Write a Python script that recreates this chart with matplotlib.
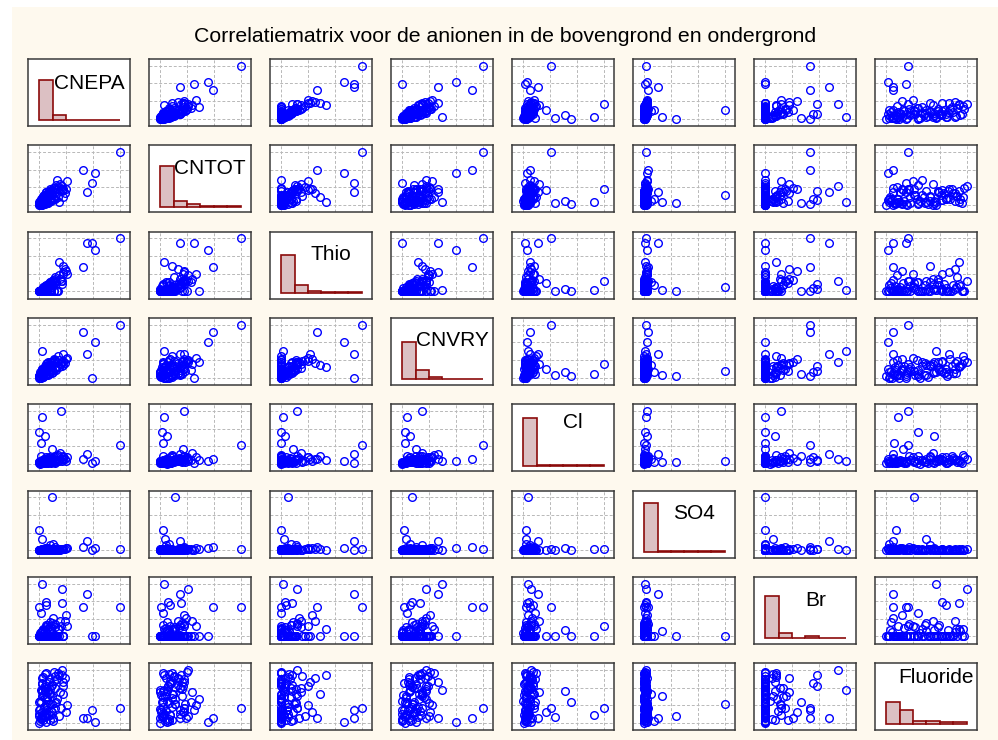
import matplotlib

matplotlib.use("Agg")
import matplotlib.pyplot as plt  # noqa: E402
import numpy as np  # noqa: E402
from matplotlib.patches import Rectangle  # noqa: E402

plt.rcParams["font.family"] = ["Liberation Sans", "DejaVu Sans"]

TITLE = "Correlatiematrix voor de anionen in de bovengrond en ondergrond"
NAMES = ["CNEPA", "CNTOT", "Thio", "CNVRY", "Cl", "SO4", "Br", "Fluoride"]

# values (relative units, 0 = min, 100 = max)
# first 26 entries: the outlying samples, then the bulk of the samples
CNEPA = [100, 55, 70, 66, 59, 22, 27, 4, 0, 7, 2, 16, 0, 4, 4, 28, 30, 32, 29, 25, 33, 9,
         9, 28, 0, 2,
         1, 2, 3, 4, 5, 6, 7, 8, 9, 10, 11, 12, 13, 14, 15, 16, 17, 18, 19, 20, 21, 23, 24, 26, 30, 35,
         0, 1, 2, 3, 4, 5, 6, 7, 8, 9, 10, 11, 12, 13, 14, 15, 16, 17, 18, 19, 20, 22,
         0, 1, 2, 3, 4, 5, 6, 7, 8, 9, 10, 12, 14, 16]
CNTOT = [100, 66, 60, 42, 25, 48, 30, 5, 2, 8, 3, 18, 3, 6, 5, 35, 28, 22, 15, 5, 30, 10,
         12, 26, 1, 4,
         6, 0, 12, 1, 15, 3, 2, 18, 9, 4, 24, 16, 8, 27, 7, 22, 32, 12, 30, 17, 38, 15, 34, 40, 30, 45,
         0, 8, 0, 13, 7, 1, 18, 11, 3, 24, 18, 4, 23, 12, 31, 10, 27, 11, 33, 25, 11, 30,
         5, 0, 11, 0, 12, 17, 3, 15, 24, 4, 15, 27, 7, 28]
THIO = [100, 45, 78, 91, 91, 0, 20, 2, 0, 5, 0, 8, 0, 3, 2, 20, 33, 42, 48, 56, 38, 5,
        6, 14, 0, 0,
        0, 0, 4, 0, 6, 0, 9, 5, 0, 12, 8, 0, 15, 18, 0, 14, 22, 0, 20, 26, 17, 0, 30, 24, 36, 33,
        0, 0, 2, 0, 5, 0, 3, 10, 0, 7, 0, 14, 11, 0, 16, 0, 20, 12, 0, 24, 18, 0,
        0, 1, 0, 4, 0, 8, 2, 0, 12, 0, 9, 0, 18, 15]
CNVRY = [100, 87, 67, 0, 44, 30, 25, 6, 3, 10, 4, 12, 2, 5, 50, 30, 32, 28, 24, 20, 35, 12,
         10, 22, 2, 6,
         0, 9, 5, 15, 1, 12, 20, 5, 17, 27, 5, 21, 12, 29, 22, 8, 30, 36, 17, 32, 15, 40, 33, 25, 44, 37,
         3, 0, 10, 2, 16, 1, 12, 22, 14, 7, 21, 30, 8, 23, 13, 29, 24, 10, 34, 18, 33, 22,
         0, 10, 0, 8, 17, 9, 14, 5, 15, 25, 20, 7, 24, 17]
CL = [35, 9, 5, 2, 18, 8, 100, 88, 60, 52, 40, 6, 3, 4, 6, 10, 12, 10, 14, 8, 6, 7,
      12, 5, 3, 15,
      2, 4, 1, 6, 3, 8, 2, 5, 10, 3, 7, 12, 4, 9, 2, 6, 11, 5, 14, 3, 8, 16, 6, 20, 9, 13,
      1, 0, 5, 2, 7, 1, 9, 4, 3, 6, 8, 2, 11, 5, 3, 7, 10, 4, 12, 6, 2, 15,
      3, 6, 2, 4, 1, 8, 5, 3, 10, 2, 7, 4, 9, 28]
SO4 = [2, 5, 4, 1, 17, 3, 3, 2, 1, 4, 0, 100, 39, 22, 1, 2, 2, 3, 2, 1, 4, 2,
       1, 2, 0, 1,
       0, 1, 0, 2, 1, 0, 3, 1, 2, 0, 4, 1, 2, 0, 3, 1, 2, 0, 5, 1, 2, 0, 3, 1, 2, 4,
       0, 0, 1, 0, 0, 2, 1, 0, 2, 1, 0, 3, 1, 0, 2, 1, 0, 12, 1, 0, 3, 1,
       1, 0, 0, 2, 0, 1, 0, 1, 0, 2, 1, 0, 9, 1]
BR = [56, 56, 0, 0, 80, 0, 20, 0, 0, 12, 0, 0, 0, 10, 100, 90, 0, 30, 0, 14, 40, 65,
      60, 64, 56, 44,
      0, 0, 0, 0, 12, 0, 0, 18, 0, 22, 0, 0, 28, 0, 16, 0, 34, 0, 24, 0, 0, 14, 0, 30, 0, 20,
      0, 6, 0, 0, 8, 0, 0, 10, 0, 0, 15, 0, 0, 20, 0, 0, 26, 0, 0, 18, 0, 0,
      0, 0, 9, 0, 0, 14, 0, 0, 22, 0, 0, 12, 0, 0]
FLUOR = [27, 8, 2, 25, 9, 45, 27, 15, 40, 60, 10, 35, 12, 50, 62, 100, 70, 85, 55, 90, 20, 70,
         75, 90, 25, 40,
         3, 8, 14, 20, 5, 30, 11, 36, 2, 48, 17, 55, 6, 64, 22, 72, 9, 80, 28, 88, 40, 95, 13, 58, 78, 33,
         0, 42, 62, 76, 85, 52, 68, 92, 18, 25, 45, 60, 83, 15, 35, 70, 50, 4, 97, 65, 38, 82,
         16, 26, 7, 58, 74, 87, 12, 47, 66, 94, 30, 77, 54, 21]

# histogram bar heights on the diagonal (fraction of samples per bin, 6 bins)
HIST_CNEPA = [0.82, 0.10, 0.012, 0.012, 0.012, 0.012]
HIST_CNTOT = [0.82, 0.12, 0.055, 0.012, 0.012, 0.012]
HIST_THIO = [0.78, 0.17, 0.04, 0.012, 0.012, 0.012]
HIST_CNVRY = [0.76, 0.19, 0.05, 0.012, 0.012, 0.012]
HIST_CL = [0.96, 0.012, 0.012, 0.012, 0.012, 0.012]
HIST_SO4 = [0.99, 0.012, 0.012, 0.012, 0.012, 0.012]
HIST_BR = [0.86, 0.10, 0.012, 0.04, 0.012, 0.012]
HIST_FLUOR = [0.45, 0.30, 0.07, 0.08, 0.04, 0.04]

DATA = [CNEPA, CNTOT, THIO, CNVRY, CL, SO4, BR, FLUOR]
HISTS = [HIST_CNEPA, HIST_CNTOT, HIST_THIO, HIST_CNVRY, HIST_CL, HIST_SO4, HIST_BR, HIST_FLUOR]
LABEL_Y = [0.63, 0.66, 0.66, 0.66, 0.72, 0.66, 0.64, 0.78]

W, H = 998, 740
BG = "#fef9ee"
fig = plt.figure(figsize=(W / 100, H / 100), dpi=100)
fig.patches.append(Rectangle((12 / W, 0), 1, 1 - 7 / H, transform=fig.transFigure,
                             facecolor=BG, edgecolor="none", zorder=-10))
fig.text(505 / W, 1 - 37 / H, TITLE, ha="center", va="center", fontsize=15.3)

n = len(NAMES)


def limits(v):
    lo, hi = min(v), max(v)
    r = hi - lo
    return (lo - 0.14 * r, hi + 0.13 * r), [lo + r * k / 3 for k in range(4)]


for i in range(n):
    for j in range(n):
        x0 = 28 + 121 * j
        y0 = 59 + 86.3 * i
        ax = fig.add_axes([x0 / W, 1 - (y0 + 67) / H, 102 / W, 67 / H])
        ax.set_facecolor("white")
        for s in ax.spines.values():
            s.set_color("#3a3a3a")
            s.set_linewidth(1.1)
        ax.tick_params(left=False, bottom=False, labelleft=False, labelbottom=False)
        xlim, xt = limits(DATA[j])
        ax.set_xlim(xlim)
        if i == j:
            lo, hi = min(DATA[j]), max(DATA[j])
            edges = np.linspace(lo, hi, 7)
            ax.bar(edges[:-1], HISTS[j], width=np.diff(edges), align="edge",
                   facecolor="#dcc0c3", edgecolor="#8b0a0a", linewidth=1.2)
            ax.set_ylim(-0.115, 1.25)
            ax.text(0.6, LABEL_Y[j], NAMES[j], transform=ax.transAxes,
                    ha="center", va="center", fontsize=15)
            ax.set_xticks([])
            ax.set_yticks([])
        else:
            ylim, yt = limits(DATA[i])
            ax.set_ylim(ylim)
            ax.set_xticks(xt)
            ax.set_yticks(yt)
            ax.grid(True, color="#b8b8b8", linestyle=(0, (3, 2)), linewidth=0.7)
            ax.set_axisbelow(True)
            ax.plot(DATA[j], DATA[i], "o", mfc="none", mec="#0000ff", ms=5.5, mew=1.0)

fig.savefig("out.png", dpi=100, facecolor="white")
